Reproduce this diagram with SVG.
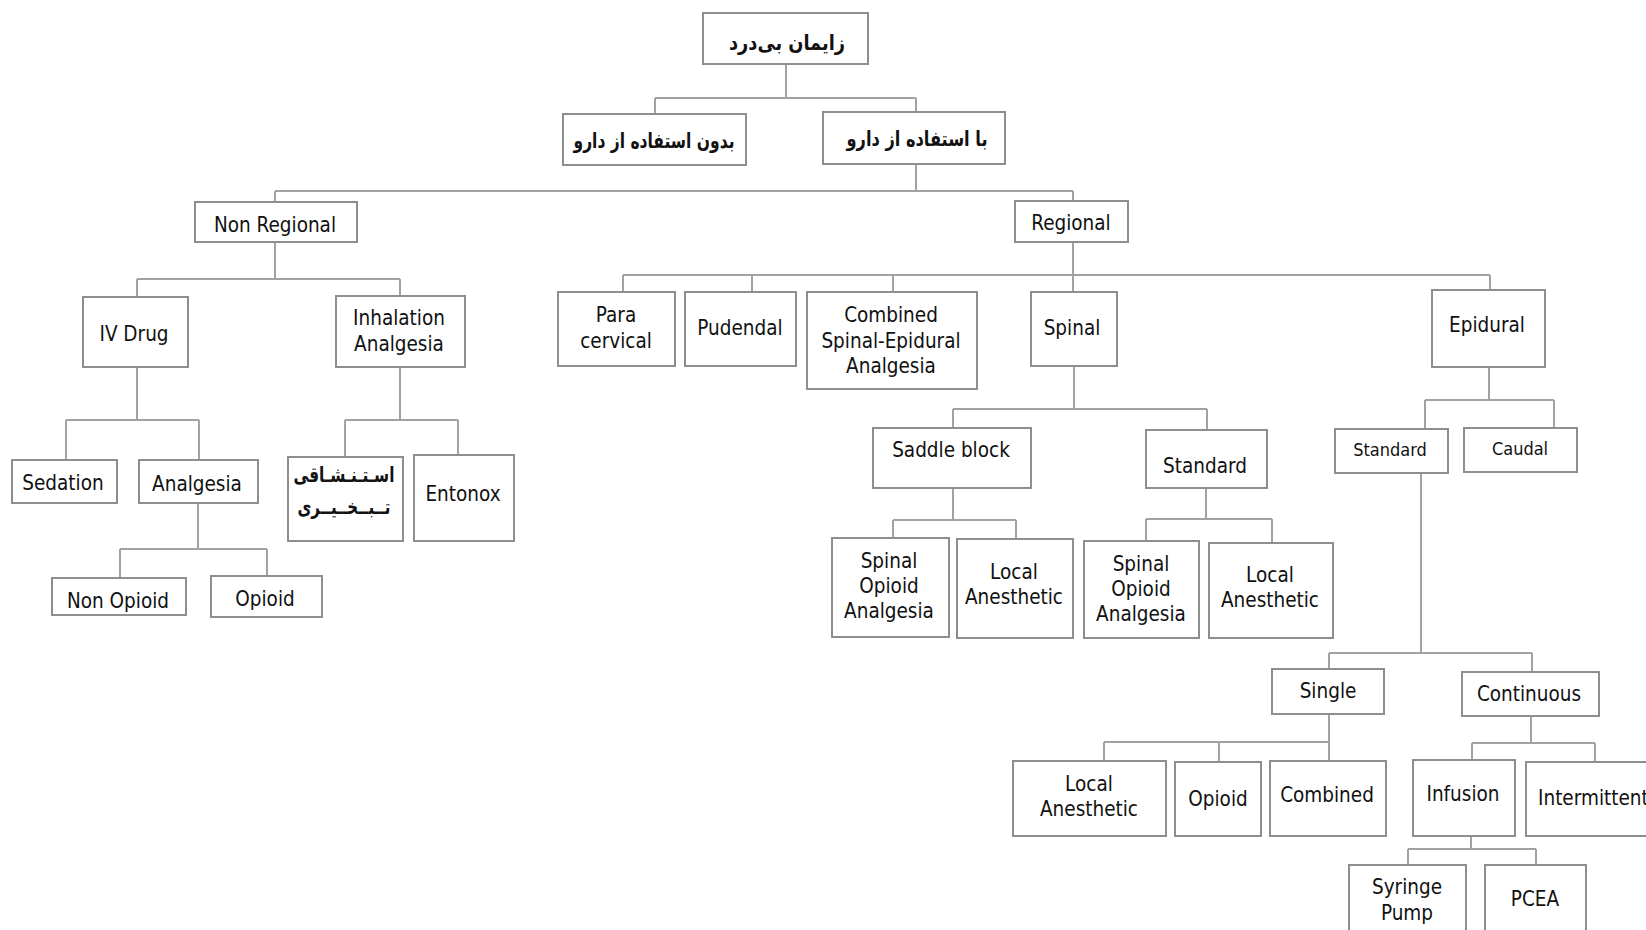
<svg xmlns="http://www.w3.org/2000/svg" width="1646" height="930" viewBox="0 0 1646 930">
<style>
.b{fill:#fff;stroke:#8e8e8e;stroke-width:2}
.c path{fill:none;stroke:#a2a2a2;stroke-width:2}
text{font-family:"DejaVu Sans Condensed","DejaVu Sans",sans-serif;font-stretch:condensed;font-size:20.5px;fill:#111;text-anchor:middle}
.s{font-size:18px}
.fa{font-family:"DejaVu Sans",sans-serif;font-stretch:normal;font-weight:bold;font-size:21px;direction:rtl}
</style>
<rect width="1646" height="930" fill="#fff"/>
<g class="c" id="connectors">
<path d="M786 64V98M655 98H916M655 98V114M916 98V112"/>
<path d="M916 164V191M275 191H1073M275 191V202M1073 191V201"/>
<path d="M275 242V279M137 279H400M137 279V297M400 279V296"/>
<path d="M137 367V420M66 420H199M66 420V460M199 420V460"/>
<path d="M400 367V420M345 420H458M345 420V457M458 420V455"/>
<path d="M198 503V549M120 549H267M120 549V578M267 549V576"/>
<path d="M1073 242V275M623 275H1490M623 275V292M752 275V292M893 275V292M1073 275V292M1490 275V290"/>
<path d="M1074 366V409M953 409H1207M953 409V428M1207 409V430"/>
<path d="M953 488V520M893 520H1016M893 520V538M1016 520V539"/>
<path d="M1206 488V519M1146 519H1272M1146 519V541M1272 519V543"/>
<path d="M1489 367V400M1425 400H1554M1425 400V429M1554 400V428"/>
<path d="M1421 473V653M1329 653H1532M1329 653V669M1532 653V672"/>
<path d="M1329 714V761M1104 742H1329M1104 742V761M1219 742V762"/>
<path d="M1531 716V743M1472 743H1595M1472 743V760M1595 743V762"/>
<path d="M1471 837V849M1408 849H1536M1408 849V865M1536 849V865"/>
</g>
<g id="root"><rect class="b" x="703" y="13" width="165" height="51"/><text class="fa" x="787" y="50" textLength="116" lengthAdjust="spacingAndGlyphs">زایمان بی‌درد</text></g>
<g id="bedun"><rect class="b" x="563" y="114" width="183" height="51"/><text class="fa" x="654" y="148" textLength="161" lengthAdjust="spacingAndGlyphs">بدون استفاده از دارو</text></g>
<g id="ba"><rect class="b" x="823" y="112" width="182" height="52"/><text class="fa" x="917" y="146" textLength="141" lengthAdjust="spacingAndGlyphs">با استفاده از دارو</text></g>
<g id="nonregional"><rect class="b" x="195" y="202" width="162" height="40"/><text x="275" y="232">Non Regional</text></g>
<g id="regional"><rect class="b" x="1015" y="201" width="113" height="41"/><text x="1071" y="230">Regional</text></g>
<g id="ivdrug"><rect class="b" x="83" y="297" width="105" height="70"/><text x="134" y="341">IV Drug</text></g>
<g id="inhalation"><rect class="b" x="336" y="296" width="129" height="71"/><text x="399" y="325">Inhalation</text><text x="399" y="351">Analgesia</text></g>
<g id="sedation"><rect class="b" x="12" y="460" width="105" height="43"/><text x="63" y="490">Sedation</text></g>
<g id="analgesia"><rect class="b" x="139" y="460" width="119" height="43"/><text x="197" y="491">Analgesia</text></g>
<g id="nonopioid"><rect class="b" x="52" y="578" width="134" height="37"/><text x="118" y="608">Non Opioid</text></g>
<g id="opioid"><rect class="b" x="211" y="576" width="111" height="41"/><text x="265" y="606">Opioid</text></g>
<g id="estenshaghi"><rect class="b" x="288" y="457" width="115" height="84"/><text class="fa" x="344" y="482" textLength="101" lengthAdjust="spacingAndGlyphs">اسـتـنـشـاقی</text><text class="fa" x="344" y="514" textLength="93" lengthAdjust="spacingAndGlyphs">تــبــخــیــری</text></g>
<g id="entonox"><rect class="b" x="414" y="455" width="100" height="86"/><text x="463" y="501">Entonox</text></g>
<g id="paracervical"><rect class="b" x="558" y="292" width="117" height="74"/><text x="616" y="322">Para</text><text x="616" y="348">cervical</text></g>
<g id="pudendal"><rect class="b" x="685" y="292" width="111" height="74"/><text x="740" y="335">Pudendal</text></g>
<g id="cse"><rect class="b" x="807" y="292" width="170" height="97"/><text x="891" y="322">Combined</text><text x="891" y="348">Spinal-Epidural</text><text x="891" y="373">Analgesia</text></g>
<g id="spinal"><rect class="b" x="1031" y="292" width="86" height="74"/><text x="1072" y="335">Spinal</text></g>
<g id="epidural"><rect class="b" x="1432" y="290" width="113" height="77"/><text x="1487" y="332">Epidural</text></g>
<g id="saddle"><rect class="b" x="873" y="428" width="158" height="60"/><text x="951" y="457">Saddle block</text></g>
<g id="standard-spinal"><rect class="b" x="1146" y="430" width="121" height="58"/><text x="1205" y="473">Standard</text></g>
<g id="standard-epidural"><rect class="b" x="1335" y="429" width="113" height="44"/><text class="s" x="1390" y="456">Standard</text></g>
<g id="caudal"><rect class="b" x="1464" y="428" width="113" height="44"/><text class="s" x="1520" y="455">Caudal</text></g>
<g id="soa1"><rect class="b" x="832" y="538" width="117" height="99"/><text x="889" y="568">Spinal</text><text x="889" y="593">Opioid</text><text x="889" y="618">Analgesia</text></g>
<g id="la1"><rect class="b" x="957" y="539" width="116" height="99"/><text x="1014" y="579">Local</text><text x="1014" y="604">Anesthetic</text></g>
<g id="soa2"><rect class="b" x="1084" y="541" width="115" height="97"/><text x="1141" y="571">Spinal</text><text x="1141" y="596">Opioid</text><text x="1141" y="621">Analgesia</text></g>
<g id="la2"><rect class="b" x="1209" y="543" width="124" height="95"/><text x="1270" y="582">Local</text><text x="1270" y="607">Anesthetic</text></g>
<g id="single"><rect class="b" x="1272" y="669" width="112" height="45"/><text x="1328" y="698">Single</text></g>
<g id="continuous"><rect class="b" x="1462" y="672" width="137" height="44"/><text x="1529" y="701">Continuous</text></g>
<g id="la3"><rect class="b" x="1013" y="761" width="153" height="75"/><text x="1089" y="791">Local</text><text x="1089" y="816">Anesthetic</text></g>
<g id="opioid3"><rect class="b" x="1175" y="762" width="86" height="74"/><text x="1218" y="806">Opioid</text></g>
<g id="combined3"><rect class="b" x="1270" y="761" width="116" height="75"/><text x="1327" y="802">Combined</text></g>
<g id="infusion"><rect class="b" x="1413" y="760" width="102" height="76"/><text x="1463" y="801">Infusion</text></g>
<g id="intermittent"><rect class="b" x="1526" y="762" width="134" height="74"/><text x="1538" y="805" style="text-anchor:start">Intermittent</text></g>
<g id="syringe"><rect class="b" x="1349" y="865" width="117" height="75"/><text x="1407" y="894">Syringe</text><text x="1407" y="920">Pump</text></g>
<g id="pcea"><rect class="b" x="1485" y="865" width="101" height="75"/><text x="1535" y="906">PCEA</text></g>
</svg>
